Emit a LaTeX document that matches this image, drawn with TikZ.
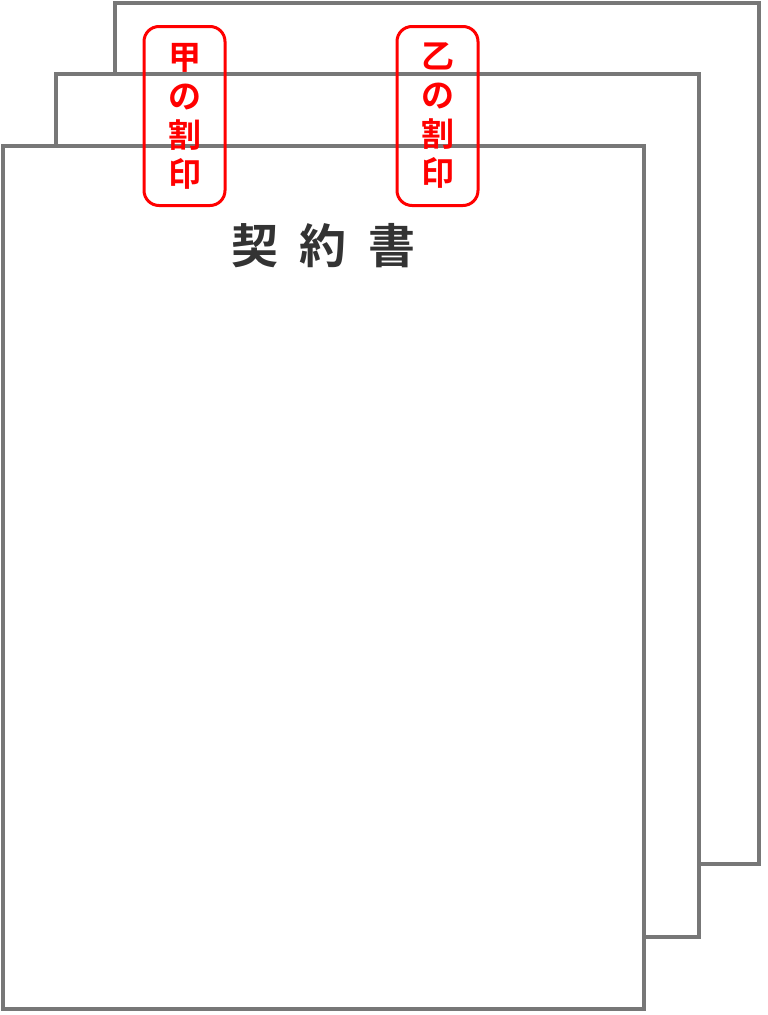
\documentclass[tikz,border=0pt]{standalone}
\usepackage{fontspec}
\newfontfamily\jpfont{Noto Sans CJK JP Bold}
\definecolor{pagegray}{HTML}{777777}
\definecolor{sealred}{HTML}{FF0000}
\definecolor{titlegray}{HTML}{333333}
\tikzset{
  page/.style={draw=pagegray, line width=3.5pt, fill=white},
  seal/.style={draw=sealred, line width=3pt, rounded corners=15pt, minimum width=81pt, minimum height=179pt,
    inner sep=0pt, align=center, text=sealred, font=\jpfont\fontsize{33}{39}\selectfont},
  title/.style={text=titlegray, font=\jpfont\fontsize{47}{50}\selectfont, inner sep=0pt}
}
\begin{document}
\begin{tikzpicture}[x=1pt,y=-1pt]
\useasboundingbox (0,0) rectangle (768,1015);
\path[page] (115,3) rectangle (759,864);
\path[page] (56,74) rectangle (699,937);
\path[page] (3,146) rectangle (644,1009);
\node[title] (t1) at (255,246) {契};
\node[title] (t2) at (323,246) {約};
\node[title] (t3) at (392,246) {書};
\node[seal] (kou) at (184.5,116) {甲\\の\\割\\印};
\node[seal] (otsu) at (437.5,116) {乙\\の\\割\\印};
\end{tikzpicture}
\end{document}
